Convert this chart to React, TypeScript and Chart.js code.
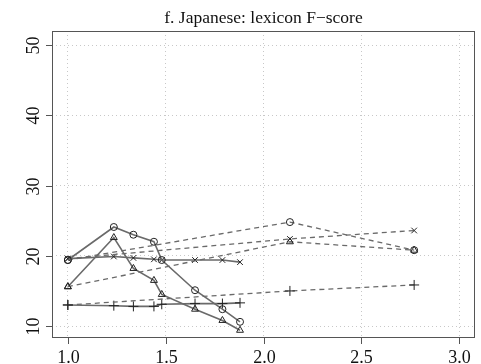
import React, { useEffect, useRef } from "react";
import { Chart, registerables } from "chart.js";

Chart.register(...registerables);

const titleText = "f. Japanese: lexicon F\u2212score";
const xTicks = [1.0, 1.5, 2.0, 2.5, 3.0];
const xTickLabels = ["1.0", "1.5", "2.0", "2.5", "3.0"];
const yTicks = [10, 20, 30, 40, 50];
const yTickLabels = ["10", "20", "30", "40", "50"];

const solidX = [1.0, 1.235, 1.335, 1.44, 1.48, 1.65, 1.79, 1.88];
const solidCircle = [19.4, 24.1, 23.0, 22.0, 19.4, 15.1, 12.4, 10.6];
const solidTriangle = [15.6, 22.6, 18.2, 16.5, 14.5, 12.4, 10.8, 9.4];
const solidCross = [19.6, 19.9, 19.7, 19.5, 19.4, 19.4, 19.4, 19.1];
const solidPlus = [13.0, 12.9, 12.8, 12.8, 13.1, 13.2, 13.2, 13.3];

const dashedX = [1.0, 2.135, 2.77];
const dashedCircle = [19.4, 24.8, 20.8];
const dashedTriangle = [15.6, 22.0, 20.8];
const dashedCross = [19.6, 22.4, 23.6];
const dashedPlus = [13.0, 15.0, 15.85];

const FONT = "'Liberation Serif', 'DejaVu Serif', serif";

function pts(xs: number[], ys: number[]) {
  return xs.map((x, i) => ({ x, y: ys[i] }));
}

const rPlugin = {
  id: "rstyle",
  afterDraw(chart: any) {
    const { ctx, chartArea, scales } = chart;
    const { left, right, top, bottom } = chartArea;
    ctx.save();
    ctx.strokeStyle = "#555";
    ctx.lineWidth = 1;
    ctx.strokeRect(left + 0.5, top + 0.5, right - left - 1, bottom - top - 1);
    ctx.fillStyle = "#111";
    ctx.font = "18px " + FONT;
    // x ticks
    ctx.textAlign = "center";
    ctx.textBaseline = "alphabetic";
    xTicks.forEach((v, i) => {
      const px = Math.round(scales.x.getPixelForValue(v)) + 0.5;
      ctx.beginPath();
      ctx.moveTo(px, bottom);
      ctx.lineTo(px, bottom + 6);
      ctx.stroke();
      ctx.fillText(xTickLabels[i], px, bottom + 25);
    });
    // y ticks
    yTicks.forEach((v, i) => {
      const py = Math.round(scales.y.getPixelForValue(v)) + 0.5;
      ctx.beginPath();
      ctx.moveTo(left, py);
      ctx.lineTo(left - 6, py);
      ctx.stroke();
      ctx.save();
      ctx.translate(left - 13, py);
      ctx.rotate(-Math.PI / 2);
      ctx.textAlign = "center";
      ctx.textBaseline = "alphabetic";
      ctx.fillText(yTickLabels[i], 0, 0);
      ctx.restore();
    });
    // title
    ctx.font = "17.5px " + FONT;
    ctx.textAlign = "center";
    ctx.textBaseline = "alphabetic";
    ctx.fillText(titleText, (left + right) / 2, 23);
    ctx.restore();
  },
};

export default function App() {
  const ref = useRef<HTMLCanvasElement | null>(null);
  useEffect(() => {
    document.body.style.margin = "0";
    if (!ref.current) return;
    const lineCol = "#6a6a6a";
    const markCol = "#222";
    const mk = (data: any, style: string, dashed: boolean, radius: number) => ({
      data,
      showLine: true,
      borderColor: lineCol,
      borderWidth: dashed ? 1.3 : 1.6,
      borderDash: dashed ? [5, 4] : [],
      pointStyle: style,
      pointRadius: radius,
      pointBorderColor: markCol,
      pointBorderWidth: 1,
      pointBackgroundColor: "rgba(0,0,0,0)",
      fill: false,
    });
    const gridOpts = { color: "#c8c8c8", lineWidth: 1, drawTicks: false };
    const borderOpts = { display: false, dash: [1, 3] };
    const chart = new Chart(ref.current, {
      type: "scatter",
      data: {
        datasets: [
          mk(pts(dashedX, dashedCircle), "circle", true, 3.5),
          mk(pts(dashedX, dashedTriangle), "triangle", true, 4),
          mk(pts(dashedX, dashedCross), "crossRot", true, 4),
          mk(pts(dashedX, dashedPlus), "cross", true, 5),
          mk(pts(solidX, solidCircle), "circle", false, 3.5),
          mk(pts(solidX, solidTriangle), "triangle", false, 4),
          mk(pts(solidX, solidCross), "crossRot", false, 4),
          mk(pts(solidX, solidPlus), "cross", false, 5),
        ] as any,
      },
      options: {
        responsive: false,
        animation: false,
        events: [],
        layout: { padding: { left: 0, top: 31, right: 4, bottom: 0 } },
        plugins: { legend: { display: false }, tooltip: { enabled: false }, title: { display: false } },
        scales: {
          x: {
            type: "linear",
            min: 0.919,
            max: 3.081,
            afterBuildTicks: (s: any) => {
              s.ticks = xTicks.map((v) => ({ value: v }));
            },
            afterFit: (s: any) => {
              s.height = 26;
            },
            ticks: { display: false },
            border: borderOpts,
            grid: gridOpts,
          },
          y: {
            type: "linear",
            min: 8.3,
            max: 52,
            afterBuildTicks: (s: any) => {
              s.ticks = yTicks.map((v) => ({ value: v }));
            },
            afterFit: (s: any) => {
              s.width = 52;
            },
            ticks: { display: false },
            border: borderOpts,
            grid: gridOpts,
          },
        },
      },
      plugins: [rPlugin],
    } as any);
    return () => chart.destroy();
  }, []);
  return (
    <div style={{ width: 481, height: 364 }}>
      <canvas ref={ref} width={481} height={364} style={{ display: "block" }} />
    </div>
  );
}
